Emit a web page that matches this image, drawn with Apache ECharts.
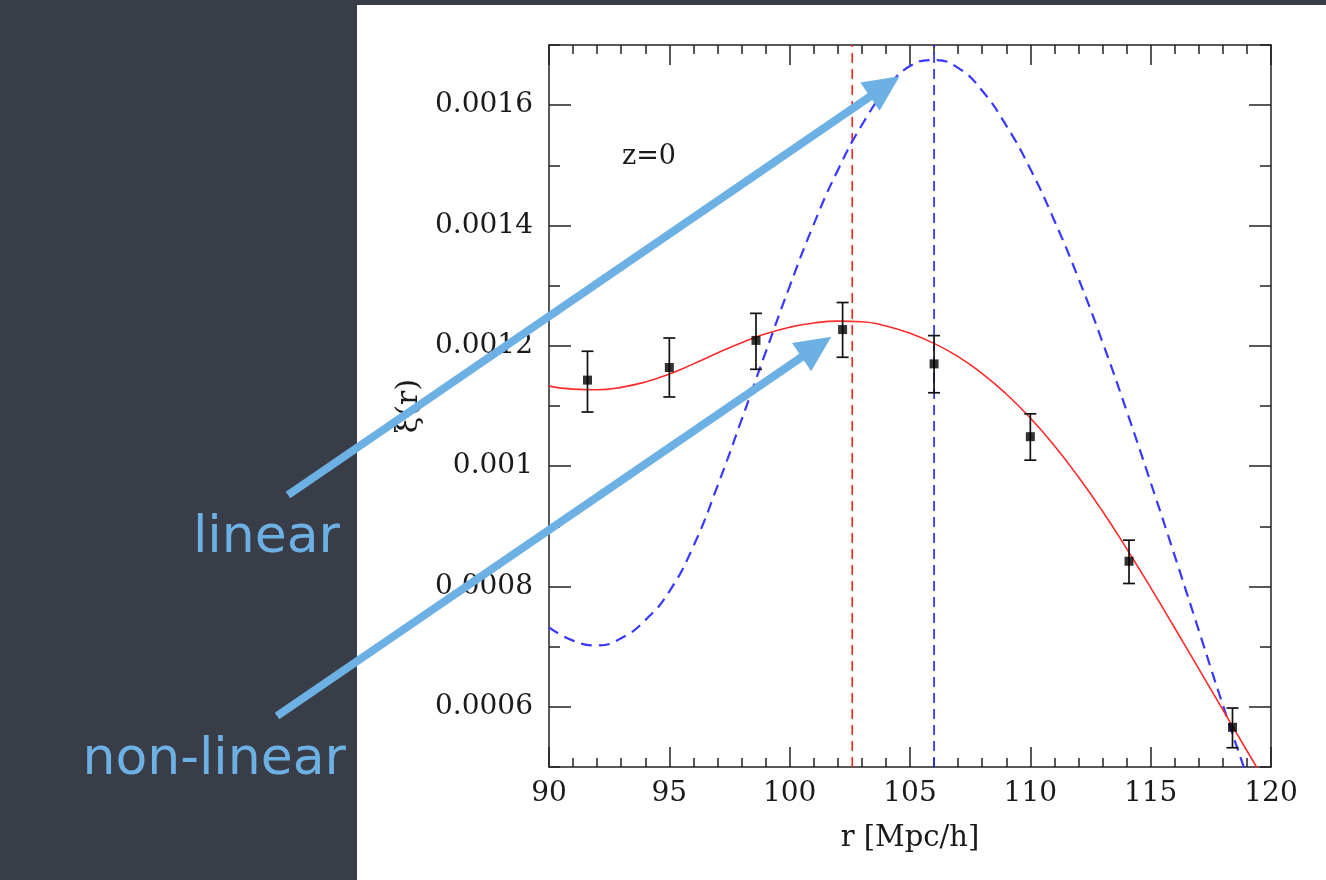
<!DOCTYPE html>
<html>
<head>
<meta charset="utf-8">
<script src="https://cdn.jsdelivr.net/npm/echarts@6/dist/echarts.min.js"></script>
<style>
  html, body { margin: 0; padding: 0; background: #393d48; }
  #chart { width: 1326px; height: 880px; }
</style>
</head>
<body>
<div id="chart"></div>
<script>
// measured BAO peak, z=0
const dataR = [91.6, 95.0, 98.6, 102.2, 106.0, 110.0, 114.1, 118.4];
const dataXi = [0.001143, 0.001164, 0.001209, 0.001227, 0.001170, 0.001049, 0.000842, 0.000566];
const dataLo = [0.001090, 0.001115, 0.001161, 0.001181, 0.001122, 0.001010, 0.000805, 0.000532];
const dataHi = [0.001191, 0.001213, 0.001254, 0.001272, 0.001217, 0.001087, 0.000877, 0.000598];

// model curves (sampled every 1 Mpc/h)
const curveR = [90, 91, 92, 93, 94, 95, 96, 97, 98, 99, 100, 101, 102, 103, 104, 105,
  106, 107, 108, 109, 110, 111, 112, 113, 114, 115, 116, 117, 118, 119, 120];
const nonlinXi = [0.001133, 0.001128, 0.001127, 0.001131, 0.001140, 0.001153, 0.001170, 0.001188,
  0.001205, 0.001220, 0.001231, 0.001238, 0.001241, 0.001240, 0.001233, 0.001221, 0.001204,
  0.001182, 0.001154, 0.001120, 0.001080, 0.001034, 0.000982, 0.000925, 0.000863, 0.000798,
  0.000731, 0.000663, 0.000595, 0.000527, 0.000459];
const linXi = [0.000732, 0.000710, 0.000702, 0.000714, 0.000744, 0.000792, 0.000867, 0.000967,
  0.001077, 0.001189, 0.001299, 0.001402, 0.001492, 0.001567, 0.001625, 0.001665, 0.001675,
  0.001662, 0.001624, 0.001566, 0.001494, 0.001408, 0.001312, 0.001206, 0.001092, 0.000973,
  0.000851, 0.000727, 0.000603, 0.000485, 0.000370];

// peak positions
const peakNonlin = 102.6;
const peakLin = 106.0;

// axes
const xMin = 90, xMax = 120, xStep = 5;
const yMin = 0.0005, yMax = 0.0017;
const yMajor = [0.0006, 0.0008, 0.001, 0.0012, 0.0014, 0.0016];
const yMinor = [0.0005, 0.0007, 0.0009, 0.0011, 0.0013, 0.0015, 0.0017];

// annotation arrow tips (data coords)
const tipLinear = [104.57, 0.001648];
const tipNonlin = [101.73, 0.001215];

const chalk = '#6db0e3';
const serif = 'DejaVu Serif';

const chart = echarts.init(document.getElementById('chart'));

function zip(a, b) {
  return a.map((v, i) => [v, b[i]]);
}

function xAxisDef(pos, labels) {
  return {
    type: 'value', position: pos, min: xMin, max: xMax, interval: xStep,
    axisLine: { show: true, onZero: false, lineStyle: { color: '#222', width: 1.5 } },
    axisTick: { show: true, inside: true, length: 20, lineStyle: { color: '#222', width: 1.5 } },
    minorTick: { show: true, splitNumber: 5, length: 9, lineStyle: { color: '#222', width: 1.5 } },
    axisLabel: { show: labels, color: '#1a1a1a', fontFamily: serif, fontSize: 28, margin: 13 },
    splitLine: { show: false },
    name: labels ? 'r [Mpc/h]' : '', nameLocation: 'middle', nameGap: 57,
    nameTextStyle: { color: '#1a1a1a', fontFamily: serif, fontSize: 29 }
  };
}

function yAxisDef(pos, ticks, len, labels, line) {
  return {
    type: 'value', position: pos, min: yMin, max: yMax,
    axisLine: { show: line, onZero: false, lineStyle: { color: '#222', width: 1.5 } },
    axisTick: { show: true, inside: true, length: len, customValues: ticks,
      lineStyle: { color: '#222', width: 1.5 } },
    axisLabel: { show: labels, customValues: ticks, color: '#1a1a1a', fontFamily: serif,
      fontSize: 28, margin: 16 },
    splitLine: { show: false },
    name: labels ? 'ξ(r)' : '', nameLocation: 'middle', nameGap: 118, nameRotate: 90,
    nameTextStyle: { color: '#1a1a1a', fontFamily: serif, fontSize: 30 }
  };
}

const option = {
  animation: false,
  backgroundColor: 'transparent',
  grid: { left: 549, right: 55, top: 45, bottom: 113 },
  xAxis: [xAxisDef('bottom', true), xAxisDef('top', false)],
  yAxis: [
    yAxisDef('left', yMajor, 22, true, true),
    yAxisDef('left', yMinor, 11, false, false),
    yAxisDef('right', yMajor, 22, false, true),
    yAxisDef('right', yMinor, 11, false, false)
  ],
  graphic: [
    { type: 'rect', z: -10, silent: true, shape: { x: 357, y: 5, width: 969, height: 875 },
      style: { fill: '#ffffff' } },
    { type: 'text', x: 622, y: 157, style: { text: 'z=0', fill: '#1a1a1a', font: '27px "DejaVu Serif"',
      verticalAlign: 'middle' } }
  ],
  series: [
    {
      type: 'line', name: 'linear', data: zip(curveR, linXi), smooth: true, showSymbol: false,
      lineStyle: { color: '#3838ff', width: 2.2, type: [11, 7] }, z: 3
    },
    {
      type: 'line', name: 'non-linear', data: zip(curveR, nonlinXi), smooth: true, showSymbol: false,
      lineStyle: { color: '#ff2a2a', width: 1.6 }, z: 3
    },
    {
      type: 'line', data: [[peakNonlin, yMin], [peakNonlin, yMax]], showSymbol: false,
      lineStyle: { color: '#ff2020', width: 1.6, type: [10, 6] }, z: 2
    },
    {
      type: 'line', data: [[peakLin, yMin], [peakLin, yMax]], showSymbol: false,
      lineStyle: { color: '#2020ff', width: 1.6, type: [10, 6] }, z: 2
    },
    {
      type: 'custom', z: 4,
      data: dataR.map((r, i) => [r, dataLo[i], dataHi[i]]),
      renderItem: function (params, api) {
        const lo = api.coord([api.value(0), api.value(1)]);
        const hi = api.coord([api.value(0), api.value(2)]);
        const w = 6;
        const st = { stroke: '#111', lineWidth: 1.7 };
        return {
          type: 'group',
          children: [
            { type: 'line', shape: { x1: lo[0], y1: lo[1], x2: hi[0], y2: hi[1] }, style: st },
            { type: 'line', shape: { x1: lo[0] - w, y1: lo[1], x2: lo[0] + w, y2: lo[1] }, style: st },
            { type: 'line', shape: { x1: hi[0] - w, y1: hi[1], x2: hi[0] + w, y2: hi[1] }, style: st }
          ]
        };
      }
    },
    {
      type: 'scatter', z: 5, symbol: 'rect', symbolSize: 9,
      data: zip(dataR, dataXi), itemStyle: { color: '#000' }
    }
  ]
};

chart.setOption(option);

// arrows and chalk labels
function arrow(tail, tipData) {
  const tip = chart.convertToPixel({ gridIndex: 0 }, tipData);
  const dx = tip[0] - tail[0], dy = tip[1] - tail[1];
  const len = Math.sqrt(dx * dx + dy * dy);
  const ux = dx / len, uy = dy / len;
  const head = 36, hw = 17;
  const bx = tip[0] - ux * head, by = tip[1] - uy * head;
  return [
    { type: 'line', z: 20, shape: { x1: tail[0], y1: tail[1], x2: bx + ux * 4, y2: by + uy * 4 },
      style: { stroke: chalk, lineWidth: 8 } },
    { type: 'polygon', z: 20, shape: { points: [tip, [bx - uy * hw, by + ux * hw], [bx + uy * hw, by - ux * hw]] },
      style: { fill: chalk } }
  ];
}

const extra = [].concat(
  arrow([288, 495], tipLinear),
  arrow([277, 716], tipNonlin),
  [
    { type: 'text', z: 20, x: 340, y: 538, style: { text: 'linear', fill: chalk,
      font: '52px "DejaVu Sans"', align: 'right', verticalAlign: 'middle' } },
    { type: 'text', z: 20, x: 346, y: 760, style: { text: 'non-linear', fill: chalk,
      font: '52px "DejaVu Sans"', align: 'right', verticalAlign: 'middle' } }
  ]
);

chart.setOption({ graphic: option.graphic.concat(extra) });
</script>
</body>
</html>
